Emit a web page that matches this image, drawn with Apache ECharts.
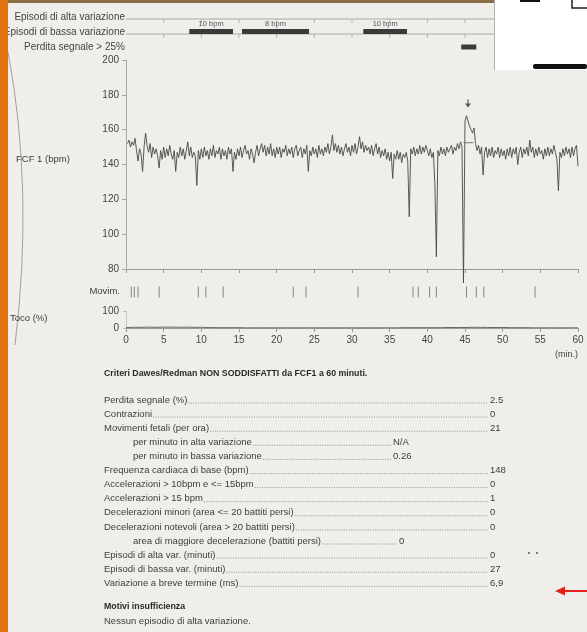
<!DOCTYPE html>
<html><head><meta charset="utf-8">
<script src="https://cdn.jsdelivr.net/npm/echarts@6/dist/echarts.min.js"></script>
<style>html,body{margin:0;padding:0;background:#efeeea}#c{width:587px;height:632px}</style>
</head><body><div id="c"></div>
<script>
// ---------- data ----------
const stripRows = ['Episodi di alta variazione', 'Episodi di bassa variazione', 'Perdita segnale > 25%'];
// [start min, end min, row index]
const episodes = [[8.4, 14.2, 1], [15.4, 24.3, 1], [31.5, 37.3, 1], [44.5, 46.5, 2]];
const episodeLabels = ['10 bpm', '8 bpm', '10 bpm', ''];
const fhrStart = 0.2, fhrStep = 0.2;
const fhrValues = [
 152,154,150,153,151, 155,148,142,149,146, 136,150,158,151,147, 152,144,150,146,149,
 145,138,148,143,150, 144,149,145,151,146, 143,148,136,147,144, 150,145,149,143,148,
 153,145,150,144,147, 145,128,148,143,149, 144,150,145,148,143, 149,145,151,144,148,
 146,150,143,149,145, 148,143,150,146,149, 136,147,143,149,145, 150,144,148,151,146,
 148,143,149,146,141, 147,151,145,149,152, 147,151,145,150,146, 152,145,149,144,150,
 146,150,144,149,147, 151,145,149,146,150, 144,149,151,145,148, 150,144,149,146,151,
 136,148,145,150,146, 149,144,151,146,149, 145,150,147,152,146, 150,157,148,152,147,
 151,146,150,145,149, 152,147,150,145,151, 147,152,146,150,156, 149,153,147,151,148,
 150,146,151,145,149, 152,146,150,144,148, 145,149,143,147,142, 147,132,146,143,148,
 143,147,141,146,144, 147,142,110,149,146, 150,145,149,146,151, 146,150,147,151,148,
 145,149,144,147,129, 87,148,145,150,146, 149,145,150,147,149, 151,146,150,148,152,
 149,153,150,72,165, 168,165,162,160,158, 161,152,148,151,146, 150,134,147,150,144,
 149,145,150,144,148, 146,150,144,149,145, 148,143,149,145,150, 144,149,146,150,140,
 147,150,144,149,146, 150,145,154,147,150, 144,149,145,150,146, 148,143,149,145,150,
 145,149,146,151,147, 143,125,147,144,149, 145,150,146,149,144, 150,145,149,151,139
];
const accelBase = [[44.8, 152.5], [46.1, 152.5]];
const accelMark = [[45.4, 175]];
const movimTimes = [0.7, 1.1, 1.6, 4.4, 9.6, 10.6, 12.9, 22.2, 23.9, 30.8, 38.1, 38.8, 40.3, 41.2, 45.2, 46.5, 47.5, 54.3];
const tocoValues = [3,4,4,5,4,5,5,4,5,4,4,3,2,2,2,2,1,1,1,1,1,1,1,1,1,1,1,1,1,1,1,1,1,1,1,1,1,2,2,2,2,2,2,3,3,3,4,4,3,3,3,2,2,2,1,1,1,1,1,1,1];
const xTicks = ['0','5','10','15','20','25','30','35','40','45','50','55','60'];
const reportTitle = 'Criteri Dawes/Redman NON SODDISFATTI da FCF1 a 60 minuti.';
const reportLabels = ['Perdita segnale (%)', 'Contrazioni', 'Movimenti fetali (per ora)',
  'per minuto in alta variazione', 'per minuto in bassa variazione', 'Frequenza cardiaca di base (bpm)',
  'Accelerazioni > 10bpm e <= 15bpm', 'Accelerazioni > 15 bpm', 'Decelerazioni minori (area <= 20 battiti persi)',
  'Decelerazioni notevoli (area > 20 battiti persi)', 'area di maggiore decelerazione (battiti persi)',
  'Episodi di alta var. (minuti)', 'Episodi di bassa var. (minuti)', 'Variazione a breve termine (ms)'];
const reportValues = ['2.5', '0', '21', 'N/A', '0.26', '148', '0', '1', '0', '0', '0', '0', '27', '6,9'];
const footerTitle = 'Motivi insufficienza';
const footerText = 'Nessun episodio di alta variazione.';

// ---------- layout ----------
const FONT = '"Liberation Sans", Arial, sans-serif';
const TXT = '#3c3c3c';
const RS = 9.5;
const fhrData = fhrValues.map((v, i) => [fhrStart + i * fhrStep, v]);
const tocoData = tocoValues.map((v, i) => [i, v]);
const movimData = movimTimes.map(t => [t, 0.5]);

const mctx = document.createElement('canvas').getContext('2d');
function tw(t, size, weight) { mctx.font = (weight || 'normal') + ' ' + size + 'px ' + FONT; return mctx.measureText(t).width; }

const graphics = [];
function txt(text, x, y, opt) {
  opt = opt || {};
  graphics.push({ type: 'text', z: 50, style: { text: text, x: x, y: y, fill: opt.fill || TXT, fontSize: opt.size || RS,
    fontFamily: FONT, fontWeight: opt.weight || 'normal', align: opt.align || 'left', verticalAlign: 'middle' } });
}
// report block
txt(reportTitle, 104, 374, { weight: 'bold', size: 8.8, fill: '#2a2a2a' });
const indented = { 3: 393, 4: 393, 10: 399 };
reportLabels.forEach((lab, i) => {
  const y = 400 + i * 14.1;
  const x0 = indented[i] ? 133 : 104;
  const vx = indented[i] || 490;
  txt(lab, x0, y);
  const w = tw(lab, RS);
  graphics.push({ type: 'line', z: 49, shape: { x1: x0 + w + 1, y1: y + 3, x2: vx - 2, y2: y + 3 },
    style: { stroke: '#7a7a7a', lineWidth: 0.8, lineDash: [1, 1.4] } });
  txt(reportValues[i], vx, y);
});
txt(footerTitle, 104, 607, { weight: 'bold', size: 8.8, fill: '#2a2a2a' });
txt(footerText, 104, 621);
// side labels
txt('FCF 1 (bpm)', 16, 159, { size: 9.5 });
txt('Movim.', 120, 291, { size: 9.5, align: 'right' });
txt('Toco (%)', 10, 318, { size: 9.5 });
txt('(min.)', 578, 355, { size: 9, align: 'right' });
// decorations
graphics.push({ type: 'bezierCurve', z: 40, shape: { x1: 8, y1: 52, cpx1: 34, cpy1: 190, x2: 15, y2: 345 },
  style: { stroke: '#8a8a8a', lineWidth: 0.8, fill: null } });
graphics.push({ type: 'rect', z: 60, shape: { x: 0, y: 0, width: 495, height: 3 }, style: { fill: '#8b6d45' } });
graphics.push({ type: 'rect', z: 60, shape: { x: 494, y: 0, width: 93, height: 70 }, style: { fill: '#ffffff' } });
graphics.push({ type: 'line', z: 61, shape: { x1: 494.5, y1: 0, x2: 494.5, y2: 70 }, style: { stroke: '#b0b0b0', lineWidth: 1 } });
graphics.push({ type: 'rect', z: 61, shape: { x: 533, y: 64, width: 54, height: 5, r: 2 }, style: { fill: '#111' } });
graphics.push({ type: 'rect', z: 61, shape: { x: 520, y: 0, width: 20, height: 2 }, style: { fill: '#111' } });
graphics.push({ type: 'polyline', z: 61, shape: { points: [[572, 0], [572, 8], [587, 8]] }, style: { stroke: '#222', lineWidth: 1.5, fill: null } });
graphics.push({ type: 'rect', z: 70, shape: { x: 0, y: 0, width: 8, height: 632 }, style: { fill: '#e2720f' } });
graphics.push({ type: 'circle', z: 50, shape: { cx: 529, cy: 553, r: 1 }, style: { fill: '#555' } });
graphics.push({ type: 'circle', z: 50, shape: { cx: 537, cy: 553, r: 1 }, style: { fill: '#555' } });
graphics.push({ type: 'rect', z: 50, shape: { x: 562, y: 590, width: 25, height: 2 }, style: { fill: '#e3201b' } });
graphics.push({ type: 'polygon', z: 50, shape: { points: [[555, 591], [565, 586.5], [565, 595.5]] }, style: { fill: '#e3201b' } });

const xBase = { type: 'value', min: 0, max: 60, interval: 5, splitLine: { show: false } };
const axisGray = '#9a9a9a';

const option = {
  animation: false,
  backgroundColor: '#efeeea',
  grid: [
    { left: 126, right: 9, top: 10, height: 45 },
    { left: 126, right: 9, top: 60, height: 209 },
    { left: 126, right: 9, top: 286, height: 12 },
    { left: 126, right: 9, top: 311, height: 17 }
  ],
  xAxis: [
    Object.assign({}, xBase, { gridIndex: 0, show: false }),
    Object.assign({}, xBase, { gridIndex: 1, axisLine: { lineStyle: { color: axisGray, width: 1 } },
      axisTick: { length: 4, lineStyle: { color: axisGray } }, axisLabel: { show: false } }),
    Object.assign({}, xBase, { gridIndex: 2, show: false }),
    Object.assign({}, xBase, { gridIndex: 3, axisLine: { lineStyle: { color: axisGray, width: 1 } },
      axisTick: { length: 4, lineStyle: { color: axisGray } },
      axisLabel: { fontSize: 10, color: '#444', fontFamily: FONT, margin: 7,
        formatter: (v) => xTicks[Math.round(v / 5)] } })
  ],
  yAxis: [
    { type: 'category', gridIndex: 0, data: stripRows, inverse: true, axisLine: { show: false }, axisTick: { show: false },
      axisLabel: { fontSize: 10, color: '#444', fontFamily: FONT, margin: 1 } },
    { type: 'value', gridIndex: 1, min: 80, max: 200, interval: 20, splitLine: { show: false },
      axisLine: { show: true, lineStyle: { color: '#aaa' } }, axisTick: { show: true, length: 4, lineStyle: { color: '#aaa' } },
      axisLabel: { fontSize: 10, color: '#444', fontFamily: FONT, margin: 7 } },
    { type: 'value', gridIndex: 2, min: 0, max: 1, show: false },
    { type: 'value', gridIndex: 3, min: 0, max: 100, interval: 100, splitLine: { show: false },
      axisLine: { show: true, lineStyle: { color: '#c8c8c8' } }, axisTick: { show: true, length: 3, lineStyle: { color: '#bbb' } },
      axisLabel: { fontSize: 10, color: '#444', fontFamily: FONT, margin: 7 } }
  ],
  series: [
    { type: 'custom', xAxisIndex: 0, yAxisIndex: 0, data: [[0, 60, 0], [0, 60, 1]], clip: false,
      renderItem: function (params, api) {
        const s = api.coord([api.value(0), api.value(2)]);
        const e = api.coord([api.value(1), api.value(2)]);
        const y = s[1] + 1.5;
        const ch = [{ type: 'line', shape: { x1: s[0], y1: y, x2: e[0], y2: y }, style: { stroke: '#a8a8a8', lineWidth: 1 } }];
        for (let m = 5; m < 60; m += 5) {
          const p = api.coord([m, api.value(2)]);
          ch.push({ type: 'line', shape: { x1: p[0], y1: y, x2: p[0], y2: y + 4 }, style: { stroke: '#b4b4b4', lineWidth: 1 } });
        }
        return { type: 'group', children: ch };
      } },
    { type: 'custom', xAxisIndex: 0, yAxisIndex: 0, data: episodes, clip: false, z: 5,
      renderItem: function (params, api) {
        const s = api.coord([api.value(0), api.value(2)]);
        const e = api.coord([api.value(1), api.value(2)]);
        const top = api.value(2) === 1 ? s[1] - 3.5 : s[1] - 3;
        return { type: 'group', children: [
          { type: 'rect', shape: { x: s[0], y: top, width: e[0] - s[0], height: 5 }, style: { fill: '#3a3a3a' } },
          { type: 'text', style: { text: episodeLabels[params.dataIndex], x: (s[0] + e[0]) / 2, y: s[1] - 8.5,
            align: 'center', verticalAlign: 'middle', fontSize: 7.5, fontFamily: FONT, fill: '#555' } }
        ] };
      } },
    { type: 'line', xAxisIndex: 1, yAxisIndex: 1, data: fhrData, showSymbol: false, symbol: 'none', clip: false,
      lineStyle: { color: '#474747', width: 0.9 }, z: 3 },
    { type: 'line', xAxisIndex: 1, yAxisIndex: 1, data: accelBase, showSymbol: false, symbol: 'none',
      lineStyle: { color: '#777', width: 1 }, z: 3 },
    { type: 'scatter', xAxisIndex: 1, yAxisIndex: 1, data: accelMark,
      symbol: 'path://M4,0 L6,0 L6,6 L10,6 L5,12 L0,6 L4,6 Z', symbolSize: [6, 8], itemStyle: { color: '#333' } },
    { type: 'scatter', xAxisIndex: 2, yAxisIndex: 2, data: movimData, symbol: 'rect', symbolSize: [1, 11],
      itemStyle: { color: '#6a6a6a' } },
    { type: 'line', xAxisIndex: 3, yAxisIndex: 3, data: tocoData, showSymbol: false, symbol: 'none',
      lineStyle: { color: '#666', width: 1 } }
  ],
  graphic: graphics
};
const chart = echarts.init(document.getElementById('c'), null, { renderer: 'canvas' });
chart.setOption(option);
</script></body></html>
